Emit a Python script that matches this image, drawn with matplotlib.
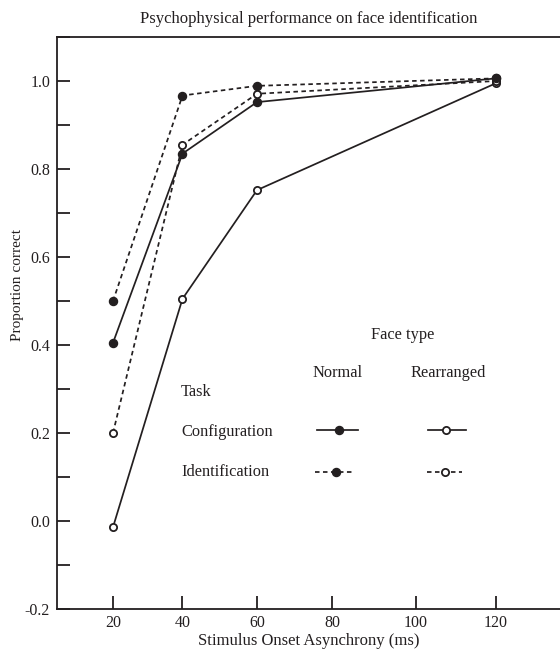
import numpy as np
import matplotlib
matplotlib.use("Agg")
import matplotlib.pyplot as plt
from matplotlib.ticker import FixedLocator, MultipleLocator

plt.rcParams['font.family'] = ['Liberation Serif', 'DejaVu Serif']

# ---- data ----
soa = [20, 40, 60, 120]
config_normal = [0.405, 0.835, 0.952, 1.006]
config_rearranged = [-0.014, 0.505, 0.752, 0.995]
ident_normal = [0.50, 0.967, 0.989, 1.006]
ident_rearranged = [0.20, 0.855, 0.971, 1.000]
x_ticks = [20, 40, 60, 80, 100, 120]
y_ticks = [-0.2, 0.0, 0.2, 0.4, 0.6, 0.8, 1.0]

title = "Psychophysical performance on face identification"
xlabel = "Stimulus Onset Asynchrony (ms)"
ylabel = "Proportion correct"

# ---- style: the hand-drawn axis has uneven tick spacing ----
SCALE_VALS = [0, 20, 40, 60, 80, 100, 120, 140]
SCALE_POS = [43.5, 113, 182.5, 257, 332.5, 416, 496, 576.4]

def fwd(x):
    return np.interp(x, SCALE_VALS, SCALE_POS)

def inv(p):
    return np.interp(p, SCALE_POS, SCALE_VALS)

INK = '#231f20'
fig = plt.figure(figsize=(5.6, 6.51), dpi=100)
ax = fig.add_axes([57/560, 42/651, 503/560, 572/651])
ax.set_xscale('function', functions=(fwd, inv))
ax.set_xlim(inv(57), inv(560))
ax.set_ylim(-0.2, 1.1)

lw = 1.25
dash = (0, (2.6, 2.0))
ms_f, ms_o = 5.8, 5.2

def plot_series(y, ls, filled):
    if filled:
        ax.plot(soa, y, color=INK, lw=lw, linestyle=ls, marker='o', ms=ms_f,
                mfc=INK, mec=INK, zorder=3)
    else:
        ax.plot(soa, y, color=INK, lw=lw, linestyle=ls, marker='o', ms=ms_o,
                mfc='white', mec=INK, mew=1.3, zorder=3)

plot_series(config_rearranged, '-', False)
plot_series(config_normal, '-', True)
plot_series(ident_rearranged, dash, False)
plot_series(ident_normal, dash, True)

# ---- axes styling ----
for s in ['left', 'bottom', 'top']:
    ax.spines[s].set_linewidth(1.3)
    ax.spines[s].set_color(INK)
ax.spines['right'].set_visible(False)

ax.xaxis.set_major_locator(FixedLocator(x_ticks))
ax.set_xticklabels([str(v) for v in x_ticks])
ax.xaxis.set_minor_locator(FixedLocator([]))
ax.yaxis.set_major_locator(FixedLocator(y_ticks))
ax.set_yticklabels(['%.1f' % v for v in y_ticks])
ax.yaxis.set_minor_locator(MultipleLocator(0.1))
ax.tick_params(axis='both', which='both', direction='in', length=9.5, width=1.3,
               color=INK, labelcolor=INK, labelsize=11.5, pad=5,
               top=False, right=False)
ax.tick_params(axis='x', pad=4)

ax.set_title(title, fontsize=12, color=INK, pad=10)
ax.set_xlabel(xlabel, fontsize=12, color=INK, labelpad=2)
ax.set_ylabel(ylabel, fontsize=11, color=INK)
ax.yaxis.set_label_coords(-0.066, 0.566)

# ---- custom legend (axes fraction coordinates) ----
tr = ax.transAxes
fs = 11.8
ax.text(0.688, 0.479, "Face type", transform=tr, ha='center', va='center', fontsize=fs, color=INK)
ax.text(0.557, 0.413, "Normal", transform=tr, ha='center', va='center', fontsize=fs, color=INK)
ax.text(0.777, 0.413, "Rearranged", transform=tr, ha='center', va='center', fontsize=fs, color=INK)
ax.text(0.2465, 0.379, "Task", transform=tr, ha='left', va='center', fontsize=fs, color=INK)
ax.text(0.2465, 0.309, "Configuration", transform=tr, ha='left', va='center', fontsize=fs, color=INK)
ax.text(0.2465, 0.2395, "Identification", transform=tr, ha='left', va='center', fontsize=fs, color=INK)

def key(x0, x1, xm, y, ls, filled):
    ax.plot([x0, x1], [y, y], transform=tr, color=INK, lw=lw, linestyle=ls, clip_on=False)
    if filled:
        ax.plot([xm], [y], transform=tr, marker='o', ms=ms_f, mfc=INK, mec=INK,
                linestyle='none', clip_on=False)
    else:
        ax.plot([xm], [y], transform=tr, marker='o', ms=ms_o, mfc='white', mec=INK,
                mew=1.3, linestyle='none', clip_on=False)

key(0.517, 0.598, 0.561, 0.313, '-', True)
key(0.738, 0.813, 0.773, 0.313, '-', False)
key(0.513, 0.588, 0.555, 0.2395, dash, True)
key(0.736, 0.805, 0.771, 0.2395, dash, False)

fig.savefig('out.png', dpi=100)
